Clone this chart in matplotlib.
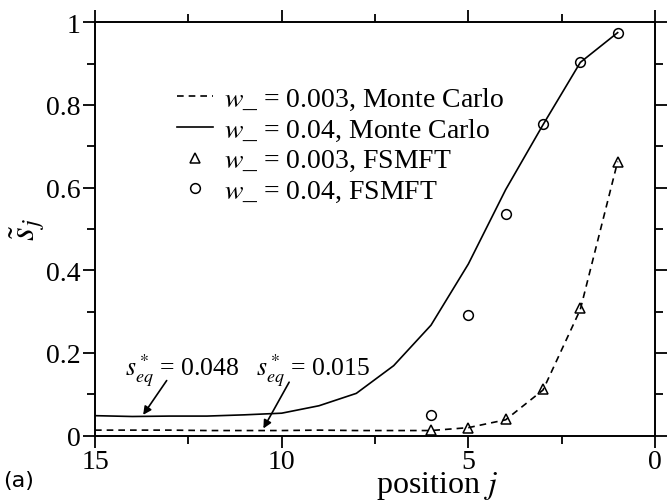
import matplotlib
matplotlib.use("Agg")
import matplotlib.pyplot as plt
from matplotlib.ticker import MultipleLocator
import numpy as np

# ---- data ----
positions = [15, 14, 13, 12, 11, 10, 9, 8, 7, 6, 5, 4, 3, 2, 1]
mc_w003 = [0.013, 0.013, 0.013, 0.012, 0.012, 0.012, 0.013, 0.012, 0.012, 0.012,
           0.019, 0.038, 0.11, 0.305, 0.663]
mc_w04 = [0.048, 0.046, 0.047, 0.047, 0.050, 0.054, 0.072, 0.102, 0.169, 0.267,
          0.415, 0.595, 0.752, 0.903, 0.975]
fsmft_pos = [6, 5, 4, 3, 2, 1]
fsmft_w003 = [0.013, 0.018, 0.040, 0.113, 0.308, 0.663]
fsmft_w04 = [0.050, 0.292, 0.536, 0.753, 0.904, 0.975]

labels = ["$w$_ = 0.003, Monte Carlo", "$w$_ = 0.04, Monte Carlo",
          "$w$_ = 0.003, FSMFT", "$w$_ = 0.04, FSMFT"]
xticks = [15, 10, 5, 0]
yticks = [0, 0.2, 0.4, 0.6, 0.8, 1.0]
ytick_labels = ["0", "0.2", "0.4", "0.6", "0.8", "1"]

plt.rcParams['font.family'] = ['Liberation Serif', 'DejaVu Serif']
plt.rcParams['mathtext.fontset'] = 'stix'

fig = plt.figure(figsize=(6.7, 5.02), dpi=100)
ax = fig.add_axes([95/670, 1-436.5/502, 560/670, 413.2/502])

ax.plot(positions, mc_w003, color='black', lw=1.2, dashes=(4, 3), label=labels[0])
ax.plot(positions, mc_w04, color='black', lw=1.2, label=labels[1])
ax.plot(fsmft_pos, fsmft_w003, ls='none', marker='^', ms=7, mfc='none', mec='black',
        mew=1.1, label=labels[2])
ax.plot(fsmft_pos, fsmft_w04, ls='none', marker='o', ms=7, mfc='none', mec='black',
        mew=1.1, label=labels[3])

ax.set_xlim(15, 0)
ax.set_ylim(0, 1)
ax.set_xticks(xticks)
ax.set_xticklabels([str(t) for t in xticks])
ax.set_yticks(yticks)
ax.set_yticklabels(ytick_labels)
ax.xaxis.set_minor_locator(MultipleLocator(2.5))
ax.yaxis.set_minor_locator(MultipleLocator(0.1))
ax.tick_params(which='both', direction='out', top=True, right=True,
               labeltop=False, labelright=False, width=1.3, labelsize=20)
ax.tick_params(which='major', length=8.5, pad=2)
ax.tick_params(axis='x', which='major', pad=1)
ax.tick_params(which='minor', length=5.5)
for s in ax.spines.values():
    s.set_linewidth(1.4)

ax.set_xlabel("position $j$", fontsize=23)
ax.xaxis.set_label_coords(0.61, -0.081)
ax.set_ylabel(r"$\tilde{s}_j$", fontsize=25)
ax.yaxis.set_label_coords(-0.085, 0.5)

leg = ax.legend(loc='upper left', bbox_to_anchor=((177-95)/560, (436.5-87)/413.2),
                frameon=False, fontsize=20, handlelength=1.3, handletextpad=0.4,
                labelspacing=0.17, borderpad=0, borderaxespad=0)

ax.text(14.2, 0.160, "$s^*_{eq}$ = 0.048", fontsize=18.5, va='center', ha='left')
ax.text(10.7, 0.160, "$s^*_{eq}$ = 0.015", fontsize=18.5, va='center', ha='left')
ax.annotate("", xy=(13.71, 0.050), xytext=(13.08, 0.133),
            arrowprops=dict(arrowstyle='-|>', color='black', lw=1.2,
                            shrinkA=0, shrinkB=0, mutation_scale=12))
ax.annotate("", xy=(10.49, 0.017), xytext=(9.80, 0.129),
            arrowprops=dict(arrowstyle='-|>', color='black', lw=1.2,
                            shrinkA=0, shrinkB=0, mutation_scale=12))

fig.text(3/670, 1-481/502, "(a)", fontsize=16, family='DejaVu Sans', va='center', ha='left')

fig.savefig("out.png", dpi=100)
